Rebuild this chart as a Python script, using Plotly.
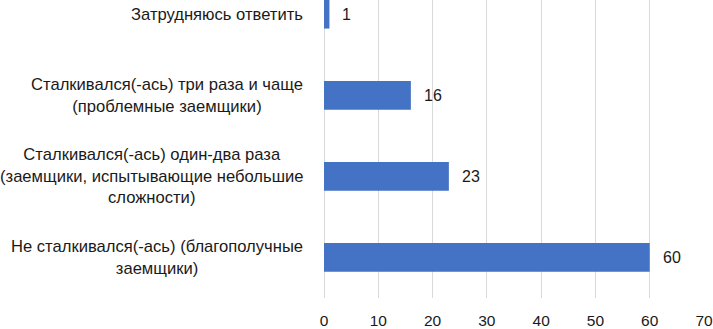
import plotly.graph_objects as go

categories = [
    "Не сталкивался(-ась) (благополучные<br>заемщики)",
    "Сталкивался(-ась) один-два раза<br>(заемщики, испытывающие небольшие<br>сложности)",
    "Сталкивался(-ась) три раза и чаще<br>(проблемные заемщики)",
    "Затрудняюсь ответить",
]
values = [60, 23, 16, 1]
x_ticks = [0, 10, 20, 30, 40, 50, 60, 70]

FONT = "Liberation Sans, Arial, sans-serif"
TEXT = "#1a1a1a"

fig = go.Figure()
fig.add_trace(go.Bar(
    x=values, y=categories, orientation="h",
    marker=dict(color="#4472C4", line=dict(width=0)),
    width=0.355, hoverinfo="skip",
))

annotations = []
for c, v in zip(categories, values):
    annotations.append(dict(
        x=0, xref="paper", y=c, yref="y", text=c, showarrow=False,
        xanchor="right", yanchor="middle", align="center", xshift=-19,
        font=dict(family=FONT, size=16.6, color=TEXT),
    ))
    annotations.append(dict(
        x=v, xref="x", y=c, yref="y", text=str(v), showarrow=False,
        xanchor="left", yanchor="middle", xshift=11,
        font=dict(family=FONT, size=16, color=TEXT),
    ))

fig.update_layout(
    width=713, height=329,
    margin=dict(l=324, r=9, t=0, b=26),
    paper_bgcolor="white", plot_bgcolor="white",
    showlegend=False,
    annotations=annotations,
    xaxis=dict(
        range=[0, 70], tickvals=x_ticks, ticktext=[str(t) for t in x_ticks],
        showgrid=True, gridcolor="#d9d9d9", gridwidth=1,
        zeroline=True, zerolinecolor="#d9d9d9", zerolinewidth=1,
        showline=False, ticks="outside", ticklen=8, tickcolor="rgba(0,0,0,0)",
        tickfont=dict(family=FONT, size=15.5, color=TEXT),
        fixedrange=True,
    ),
    yaxis=dict(
        type="category", categoryorder="array", categoryarray=categories,
        range=[-0.5, 3.175], showticklabels=False, showgrid=False,
        zeroline=False, showline=False, fixedrange=True,
    ),
)

fig.write_html(
    "out.html",
    config={"displayModeBar": False},
    post_script="document.body.style.margin='0';document.body.style.overflow='hidden';",
)
